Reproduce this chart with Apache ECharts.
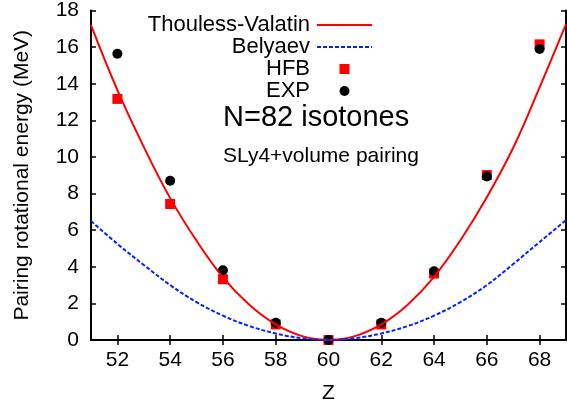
<!DOCTYPE html>
<html>
<head>
<meta charset="utf-8">
<script src="https://cdn.jsdelivr.net/npm/echarts@6/dist/echarts.min.js"></script>
<style>
html,body{margin:0;padding:0;background:#fff;}
#chart{width:567px;height:409px;}
</style>
</head>
<body>
<div id="chart"></div>
<script>
// ---- data ----
const zPoints = [52, 54, 56, 58, 60, 62, 64, 66, 68];
const hfbValues = [13.17, 7.43, 3.32, 0.85, 0.0, 0.85, 3.63, 9.01, 16.15];
const expValues = [15.64, 8.70, 3.81, 0.94, 0.0, 0.94, 3.75, 8.93, 15.90];

const zCurve = [51, 52, 53, 54, 55, 56, 57, 58, 59, 60, 61, 62, 63, 64, 65, 66, 67, 68, 69];
const thoulessValatin = [17.2, 13.65, 10.55, 7.75, 5.42, 3.42, 1.92, 0.85, 0.21, 0, 0.21, 0.85, 1.93, 3.45, 5.45, 7.8, 10.5, 13.8, 17.25];
const belyaev = [6.5, 5.25, 4.1, 3.0, 2.07, 1.33, 0.76, 0.36, 0.1, 0, 0.1, 0.36, 0.76, 1.33, 2.07, 3.0, 4.15, 5.35, 6.55];

const xTicks = [52, 54, 56, 58, 60, 62, 64, 66, 68];
const yTicks = [0, 2, 4, 6, 8, 10, 12, 14, 16, 18];

const seriesNames = ['Thouless-Valatin', 'Belyaev', 'HFB', 'EXP'];
const xTitle = 'Z';
const yTitle = 'Pairing rotational energy (MeV)';
const annotation1 = 'N=82 isotones';
const annotation2 = 'SLy4+volume pairing';

// ---- chart ----
const FONT = '"Liberation Sans", Arial, Helvetica, sans-serif';
const pair = (xs, ys) => xs.map((x, i) => [x, ys[i]]);

const chart = echarts.init(document.getElementById('chart'), null, {renderer: 'canvas'});

const frameLine = {show: true, lineStyle: {color: '#000', width: 2}};
const tickIn = {show: true, inside: true, length: 5, lineStyle: {color: '#000', width: 1.5}};

chart.setOption({
  animation: false,
  backgroundColor: '#fff',
  grid: {left: 91, right: 1, top: 9, bottom: 69, containLabel: false},
  xAxis: [
    {
      type: 'value', min: 51, max: 69, position: 'bottom',
      name: xTitle, nameLocation: 'middle', nameGap: 43,
      nameTextStyle: {fontSize: 21, fontFamily: FONT, color: '#000'},
      axisLine: frameLine,
      axisTick: Object.assign({}, tickIn, {customValues: xTicks}),
      axisLabel: {show: true, customValues: xTicks, margin: 10, fontSize: 21, fontFamily: FONT, color: '#000'},
      splitLine: {show: false}
    },
    {
      type: 'value', min: 51, max: 69, position: 'top',
      axisLine: frameLine,
      axisTick: Object.assign({}, tickIn, {customValues: xTicks}),
      axisLabel: {show: false},
      splitLine: {show: false}
    }
  ],
  yAxis: [
    {
      type: 'value', min: 0, max: 18, interval: 2, position: 'left',
      name: yTitle, nameLocation: 'middle', nameGap: 58, nameRotate: 90,
      nameTextStyle: {fontSize: 21, fontFamily: FONT, color: '#000'},
      axisLine: frameLine,
      axisTick: tickIn,
      axisLabel: {show: true, margin: 12, fontSize: 21, fontFamily: FONT, color: '#000',
        formatter: v => (yTicks.indexOf(v) >= 0 ? String(v) : '')},
      splitLine: {show: false}
    },
    {
      type: 'value', min: 0, max: 18, interval: 2, position: 'right',
      axisLine: frameLine,
      axisTick: tickIn,
      axisLabel: {show: false},
      splitLine: {show: false}
    }
  ],
  legend: {
    orient: 'vertical', align: 'right', right: 194, top: 14, padding: 0,
    itemWidth: 55, itemHeight: 10, itemGap: 0,
    selectedMode: false,
    formatter: '{a|{name}}',
    textStyle: {
      fontSize: 22, fontFamily: FONT, color: '#000',
      rich: {a: {fontSize: 22, fontFamily: FONT, color: '#000', lineHeight: 21.2, padding: [0, 2, 0, 0]}}
    },
    data: [
      {name: seriesNames[0], itemStyle: {opacity: 0}},
      {name: seriesNames[1], itemStyle: {opacity: 0}},
      {name: seriesNames[2], icon: 'path://M0 0H10V10H0Z'},
      {name: seriesNames[3], icon: 'circle'}
    ]
  },
  graphic: [
    {type: 'text', x: 223, y: 118, silent: true,
      style: {text: annotation1, fontSize: 29, fontFamily: FONT, fill: '#000', align: 'left', verticalAlign: 'middle'}},
    {type: 'text', x: 223, y: 156, silent: true,
      style: {text: annotation2, fontSize: 21, fontFamily: FONT, fill: '#000', align: 'left', verticalAlign: 'middle'}}
  ],
  series: [
    {
      name: seriesNames[0], type: 'line', data: pair(zCurve, thoulessValatin),
      smooth: 0.4, symbol: 'none', clip: true,
      lineStyle: {color: '#ff0000', width: 2}, itemStyle: {color: '#ff0000'}
    },
    {
      name: seriesNames[1], type: 'line', data: pair(zCurve, belyaev),
      smooth: 0.4, symbol: 'none', clip: true,
      lineStyle: {color: '#0022ff', width: 2, type: [4, 2]}, itemStyle: {color: '#0022ff'}
    },
    {
      name: seriesNames[2], type: 'scatter', data: pair(zPoints, hfbValues),
      symbol: 'rect', symbolSize: 10, itemStyle: {color: '#ff0000', opacity: 1}
    },
    {
      name: seriesNames[3], type: 'scatter', data: pair(zPoints, expValues),
      symbol: 'circle', symbolSize: 10, itemStyle: {color: '#000', opacity: 1}
    }
  ]
});
</script>
</body>
</html>
